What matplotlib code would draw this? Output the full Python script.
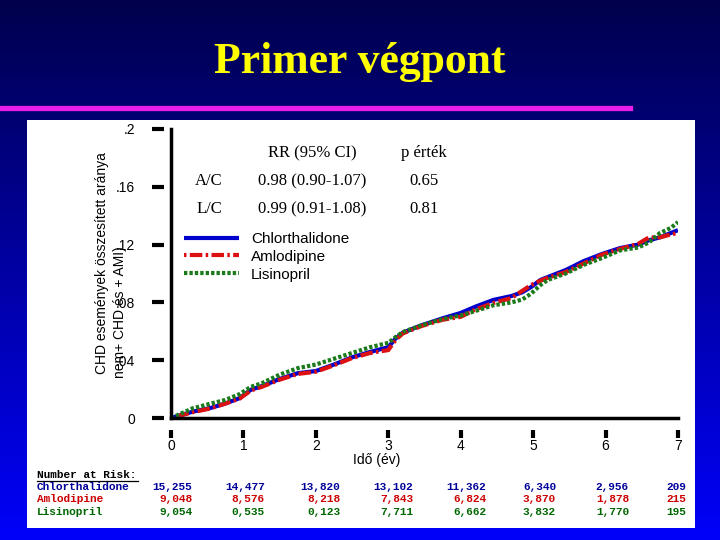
import numpy as np
import matplotlib
matplotlib.use("Agg")
import matplotlib.pyplot as plt
from matplotlib.lines import Line2D
from matplotlib.patches import Rectangle
import matplotlib.transforms as mtransforms

# --- data ---
years = [0, 0.3, 0.55, 0.75, 0.95, 1.1, 1.25, 1.5, 1.75, 2.0, 2.25, 2.5, 2.75,
         3.0, 3.1, 3.2, 3.45, 3.75, 4.0, 4.2, 4.45, 4.7, 4.85, 4.97, 5.1, 5.2,
         5.45, 5.7, 5.95, 6.2, 6.45, 6.6, 6.75, 6.9, 7.0]
chlorthalidone = [0, 0.0044, 0.0070, 0.0100, 0.0138, 0.0195, 0.0220, 0.0270, 0.0310,
                  0.0325, 0.0370, 0.0420, 0.0457, 0.0490, 0.0550, 0.0590, 0.0640,
                  0.0690, 0.0727, 0.0770, 0.0817, 0.0844, 0.0870, 0.0906, 0.0955,
                  0.0975, 0.1024, 0.1086, 0.1135, 0.1176, 0.1200, 0.1230, 0.1250,
                  0.1280, 0.1300]
amlodipine = [0, 0.0040, 0.0067, 0.0100, 0.0135, 0.0190, 0.0215, 0.0265, 0.0305,
              0.0320, 0.0365, 0.0415, 0.0450, 0.0470, 0.0540, 0.0585, 0.0635,
              0.0680, 0.0700, 0.0750, 0.0796, 0.0830, 0.0880, 0.0920, 0.0950,
              0.0970, 0.1010, 0.1070, 0.1130, 0.1170, 0.1205, 0.1250, 0.1250,
              0.1270, 0.1280]
lisinopril = [0, 0.0067, 0.0100, 0.0125, 0.0166, 0.0215, 0.0240, 0.0300, 0.0345,
              0.0370, 0.0410, 0.0450, 0.0490, 0.0520, 0.0560, 0.0595, 0.0640,
              0.0685, 0.0710, 0.0740, 0.0780, 0.0800, 0.0820, 0.0860, 0.0920,
              0.0955, 0.1000, 0.1060, 0.1107, 0.1160, 0.1180, 0.1215, 0.1280,
              0.1315, 0.1356]

yticks = [0, 0.04, 0.08, 0.12, 0.16, 0.2]
ytick_labels = ["0", ".04", ".08", ".12", ".16", ".2"]
xticks = [0, 1, 2, 3, 4, 5, 6, 7]

rr_rows = [("A/C", "0.98 (0.90-1.07)", "0.65"),
           ("L/C", "0.99 (0.91-1.08)", "0.81")]

risk_names = ["Chlorthalidone", "Amlodipine", "Lisinopril"]
risk_chl = ["15,255", "14,477", "13,820", "13,102", "11,362", "6,340", "2,956", "209"]
risk_aml = ["9,048", "8,576", "8,218", "7,843", "6,824", "3,870", "1,878", "215"]
risk_lis = ["9,054", "0,535", "0,123", "7,711", "6,662", "3,832", "1,770", "195"]

W, H = 720, 540
fig = plt.figure(figsize=(7.2, 5.4), dpi=100)

def fx(px):
    return px / W

def fy(py):
    return 1 - py / H

# background gradient
bg = fig.add_axes([0, 0, 1, 1], zorder=-2)
grad = np.linspace(0, 1, 256)
cols = np.zeros((256, 1, 3))
cols[:, 0, 2] = 0.30 + 0.68 * grad
bg.imshow(cols, aspect="auto", extent=[0, 1, 0, 1], origin="upper")
bg.set_axis_off()

# title and magenta rule
fig.text(0.5, fy(62), "Primer végpont", ha="center", va="center",
         fontsize=31.5, fontweight="bold", family="Liberation Serif", color="#ffff00")
fig.add_artist(Line2D([0, fx(630)], [fy(108), fy(108)], color="#e81ee8",
                      lw=3.8, transform=fig.transFigure))

# white panel
fig.add_artist(Rectangle((fx(27), fy(528)), fx(695) - fx(27), fy(120) - fy(528),
                         facecolor="white", edgecolor="none",
                         transform=fig.transFigure, zorder=-1))

# main plot
ax = fig.add_axes([fx(171), fy(418), fx(678) - fx(171), fy(129) - fy(418)])
ax.set_facecolor("none")
ax.set_xlim(0, 7)
ax.set_ylim(0, 0.2)
for s in ["top", "right"]:
    ax.spines[s].set_visible(False)
for s in ["left", "bottom"]:
    ax.spines[s].set_linewidth(2.5)

ax.plot(years, chlorthalidone, color="#0000cc", lw=3, label="Chlorthalidone",
        solid_capstyle="butt")
ax.plot(years, amlodipine, color="#dd1111", lw=3, dashes=(0.6, 0.8, 3, 0.8),
        label="Amlodipine")
ax.plot(years, lisinopril, color="#1b7a1b", lw=3, dashes=(0.8, 0.5),
        label="Lisinopril")

ax.set_xticks(xticks)
ax.set_xticklabels([str(v) for v in xticks])
ax.set_yticks(yticks)
ax.set_yticklabels(ytick_labels)
ax.tick_params(axis="both", length=0, labelsize=10)
ax.tick_params(axis="y", pad=26)
ax.tick_params(axis="x", pad=15)
for lab in ax.get_xticklabels() + ax.get_yticklabels():
    lab.set_family("Liberation Sans")

# detached tick dashes
ty = mtransforms.blended_transform_factory(ax.transAxes, ax.transData)
ax.plot([-13 / 507] * len(yticks), yticks, ls="none", marker="_", ms=8,
        mew=3, color="black", transform=ty, clip_on=False)
tx = mtransforms.blended_transform_factory(ax.transData, ax.transAxes)
ax.plot(xticks, [-16 / 289] * len(xticks), ls="none", marker="|", ms=6,
        mew=3, color="black", transform=tx, clip_on=False)

ax.set_xlabel("Idő (év)", fontsize=10, family="Liberation Sans")
ax.xaxis.set_label_coords((377 - 171) / 507, -(460 - 418) / 289)
ax.xaxis.label.set_va("center")

fig.text(fx(102), fy(263), "CHD események összesített aránya", rotation=90,
         ha="center", va="center", fontsize=10, family="Liberation Sans")
fig.text(fx(120), fy(312), "nem+ CHD és + AMI)", rotation=90,
         ha="center", va="center", fontsize=10, family="Liberation Sans")

leg = ax.legend(loc="upper left", bbox_to_anchor=(fx(184), fy(232)),
                bbox_transform=fig.transFigure, frameon=False,
                handlelength=3.6, handletextpad=0.8, labelspacing=0.25,
                borderpad=0, borderaxespad=0,
                prop={"family": "Liberation Sans", "size": 11})

# RR table
fig.text(fx(312), fy(153), "RR (95% CI)", ha="center", va="center",
         fontsize=12, family="Liberation Serif")
fig.text(fx(424), fy(153), "p érték", ha="center", va="center",
         fontsize=12, family="Liberation Serif")
for i, (grp, rr, p) in enumerate(rr_rows):
    yy = fy(181 + 28 * i)
    fig.text(fx(209), yy, grp, ha="center", va="center", fontsize=12,
             family="Liberation Serif")
    fig.text(fx(312), yy, rr, ha="center", va="center", fontsize=12,
             family="Liberation Serif")
    fig.text(fx(424), yy, p, ha="center", va="center", fontsize=12,
             family="Liberation Serif")

# number at risk table
mono = dict(family="Liberation Mono", fontweight="bold", fontsize=8, va="center")
fig.text(fx(37), fy(475), "Number at Risk:", color="black", ha="left", **mono)
fig.add_artist(Line2D([fx(37), fx(138)], [fy(481), fy(481)], color="black",
                      lw=0.9, transform=fig.transFigure))
num_x = [192, 265, 340, 413, 486, 556, 629, 686]
risk_cols = ["#000099", "#cc0000", "#006600"]
for i, (name, vals) in enumerate(zip(risk_names, [risk_chl, risk_aml, risk_lis])):
    yy = fy(487 + 12.5 * i)
    fig.text(fx(37), yy, name, color=risk_cols[i], ha="left", **mono)
    for xp, v in zip(num_x, vals):
        fig.text(fx(xp), yy, v, color=risk_cols[i], ha="right", **mono)

fig.savefig("out.png", dpi=100)
